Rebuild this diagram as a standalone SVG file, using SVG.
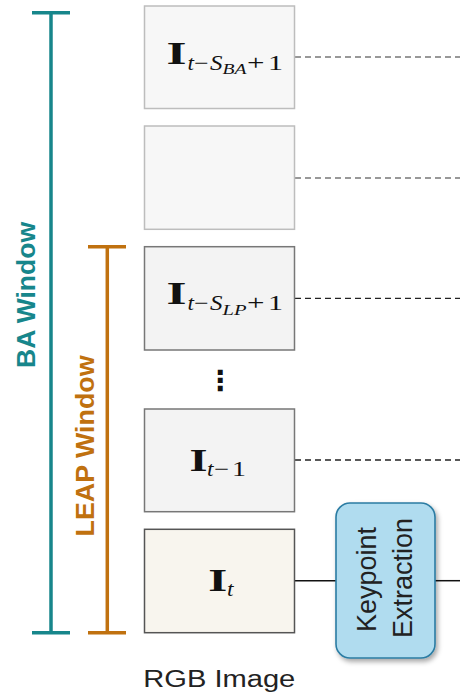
<svg xmlns="http://www.w3.org/2000/svg" width="460" height="695" viewBox="0 0 460 695">
<style>
.frameA{fill:#f7f7f7;stroke:#bdbdbd;stroke-width:1.5}
.frameB{fill:#f3f3f3;stroke:#777;stroke-width:1.5}
.frameC{fill:#f8f5ee;stroke:#555;stroke-width:1.5}
.mb{font-family:"Liberation Serif",serif;font-weight:bold;font-size:31px;fill:#111}
.mi{font-family:"Liberation Serif",serif;font-style:italic;font-size:21px;fill:#111}
.mn{font-family:"Liberation Serif",serif;font-size:21px;fill:#111}
.ms{font-family:"Liberation Serif",serif;font-style:italic;font-size:15px;fill:#111}
.dashA{stroke:#777;stroke-width:1.3;stroke-dasharray:6 4;fill:none}
.dashB{stroke:#222;stroke-width:1.3;stroke-dasharray:6 4;fill:none}
.solid{stroke:#111;stroke-width:1.5;fill:none}
.teal{stroke:#17868b;stroke-width:3.5;fill:none}
.orange{stroke:#c0710f;stroke-width:3.5;fill:none}
.lbl{font-family:"Liberation Sans",Arial,sans-serif;font-weight:bold;font-size:26px}
.sans{font-family:"Liberation Sans",Arial,sans-serif;fill:#222}
</style>
<defs>
<filter id="sh" x="-20%" y="-20%" width="150%" height="150%">
<feDropShadow dx="2" dy="3" stdDeviation="2.5" flood-color="#000" flood-opacity="0.35"/>
</filter>
</defs>

<g id="ba-window">
<line class="teal" x1="51" y1="12.7" x2="51" y2="632.7"/>
<line class="teal" x1="32" y1="12.7" x2="70" y2="12.7"/>
<line class="teal" x1="32" y1="632.7" x2="70" y2="632.7"/>
<text class="lbl" fill="#17868b" transform="translate(35,295) rotate(-90)" text-anchor="middle" textLength="146" lengthAdjust="spacingAndGlyphs">BA Window</text>
</g>

<g id="leap-window">
<line class="orange" x1="107.3" y1="246.7" x2="107.3" y2="632.7"/>
<line class="orange" x1="88" y1="246.7" x2="126" y2="246.7"/>
<line class="orange" x1="88" y1="632.7" x2="126" y2="632.7"/>
<text class="lbl" fill="#c0710f" transform="translate(94,446) rotate(-90)" text-anchor="middle" textLength="181" lengthAdjust="spacingAndGlyphs">LEAP Window</text>
</g>

<g id="connectors">
<line class="dashA" x1="295" y1="57" x2="460" y2="57"/>
<line class="dashA" x1="295" y1="178" x2="460" y2="178"/>
<line class="dashB" x1="295" y1="298.3" x2="460" y2="298.3"/>
<line class="dashB" x1="295" y1="460" x2="460" y2="460"/>
<line class="solid" x1="295" y1="580.7" x2="336" y2="580.7"/>
<line class="solid" x1="435" y1="580.7" x2="460" y2="580.7"/>
</g>

<g id="frame-sba">
<rect class="frameA" x="144.5" y="6" width="150" height="102.5"/>
<text class="mb" x="166.5" y="63.5" textLength="20" lengthAdjust="spacingAndGlyphs">I</text>
<text class="mi" x="187.5" y="69.5" textLength="6.5" lengthAdjust="spacingAndGlyphs">t</text>
<text class="mn" x="194" y="69.5" textLength="14.5" lengthAdjust="spacingAndGlyphs">−</text>
<text class="mi" x="210" y="69.5" textLength="12.5" lengthAdjust="spacingAndGlyphs">S</text>
<text class="ms" x="222.5" y="74.3" textLength="24" lengthAdjust="spacingAndGlyphs">BA</text>
<text class="mn" x="247" y="70" textLength="17.5" lengthAdjust="spacingAndGlyphs">+</text>
<text class="mn" x="268" y="70" textLength="15" lengthAdjust="spacingAndGlyphs">1</text>
</g>

<g id="frame-empty">
<rect class="frameA" x="144.5" y="126" width="150" height="103.3"/>
</g>

<g id="frame-slp">
<rect class="frameB" x="144.5" y="246.7" width="150" height="103.3"/>
<text class="mb" x="166.5" y="303.5" textLength="20" lengthAdjust="spacingAndGlyphs">I</text>
<text class="mi" x="187.5" y="309.8" textLength="6.5" lengthAdjust="spacingAndGlyphs">t</text>
<text class="mn" x="194" y="309.8" textLength="14.5" lengthAdjust="spacingAndGlyphs">−</text>
<text class="mi" x="210" y="309.8" textLength="12.5" lengthAdjust="spacingAndGlyphs">S</text>
<text class="ms" x="222.5" y="314.5" textLength="24" lengthAdjust="spacingAndGlyphs">LP</text>
<text class="mn" x="247" y="310" textLength="17.5" lengthAdjust="spacingAndGlyphs">+</text>
<text class="mn" x="268" y="310" textLength="15" lengthAdjust="spacingAndGlyphs">1</text>
</g>

<g id="ellipsis">
<text x="220" y="390" text-anchor="middle" style="font-family:'DejaVu Sans',sans-serif;font-weight:bold;font-size:28px;fill:#111">⋮</text>
</g>

<g id="frame-t-1">
<rect class="frameB" x="144.5" y="409" width="150" height="102.7"/>
<text class="mb" x="189.5" y="470.7" textLength="18" lengthAdjust="spacingAndGlyphs">I</text>
<text class="mi" x="207" y="476" textLength="6.5" lengthAdjust="spacingAndGlyphs">t</text>
<text class="mn" x="214" y="476" textLength="15" lengthAdjust="spacingAndGlyphs">−</text>
<text class="mn" x="232" y="476" textLength="14" lengthAdjust="spacingAndGlyphs">1</text>
</g>

<g id="frame-t">
<rect class="frameC" x="144.5" y="529.3" width="150" height="103.4"/>
<text class="mb" x="208.3" y="590.7" textLength="19" lengthAdjust="spacingAndGlyphs">I</text>
<text class="mi" x="227" y="596" textLength="6.5" lengthAdjust="spacingAndGlyphs">t</text>
</g>

<g id="keypoint-extraction">
<rect x="336" y="503" width="99" height="155" rx="14" ry="14" fill="#b0dcef" stroke="#2b7ca3" stroke-width="1.6" filter="url(#sh)"/>
<text class="sans" font-size="27" transform="translate(375.7,579.5) rotate(-90)" text-anchor="middle" textLength="105" lengthAdjust="spacingAndGlyphs">Keypoint</text>
<text class="sans" font-size="27" transform="translate(411.7,578) rotate(-90)" text-anchor="middle" textLength="120" lengthAdjust="spacingAndGlyphs">Extraction</text>
</g>

<g id="caption">
<text class="sans" font-size="23.5" x="143.3" y="686.5" textLength="152" lengthAdjust="spacingAndGlyphs">RGB Image</text>
</g>
</svg>
